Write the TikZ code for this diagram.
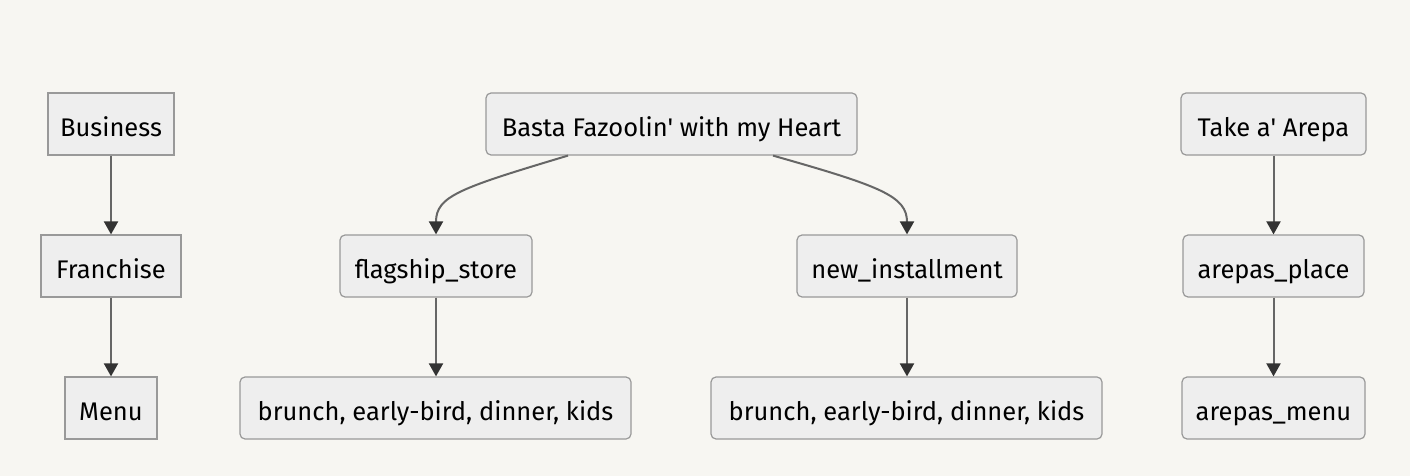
\documentclass[tikz,border=0pt]{standalone}
\usepackage{fontspec}
\newfontfamily\boxfont{Fira Sans}
\usetikzlibrary{arrows.meta}
\definecolor{bg}{HTML}{F7F6F2}
\definecolor{boxfill}{HTML}{EEEEEE}
\definecolor{boxline}{HTML}{999999}
\definecolor{edge}{HTML}{666666}
\definecolor{tip}{HTML}{333333}
\begin{document}
\begin{tikzpicture}[x=1pt,y=-1pt,
  box/.style={draw=boxline,fill=boxfill,line width=1.2pt,inner sep=0pt,
    font=\boxfont\fontsize{25.5}{28}\selectfont,text=black,anchor=center,
    text height=24pt,text depth=0pt},
  rbox/.style={box,rounded corners=5pt},
  link/.style={draw=edge,line width=2pt,
    -{Triangle[length=13pt,width=14pt,color=tip]}}]
\fill[bg] (0,0) rectangle (1410,476);
\useasboundingbox (0,0) rectangle (1410,476);
% left column
\node[box,minimum width=126pt,minimum height=62pt] (bus) at (111,124) {Business};
\node[box,minimum width=140pt,minimum height=62pt] (fra) at (111,266) {Franchise};
\node[box,minimum width=92pt,minimum height=62pt] (men) at (111,408) {Menu};
% middle
\node[rbox,minimum width=371pt,minimum height=62pt] (basta) at (671.5,124) {Basta Fazoolin' with my Heart};
\node[rbox,minimum width=192pt,minimum height=62pt] (flag) at (436,266) {flagship\_store};
\node[rbox,minimum width=220pt,minimum height=62pt] (newi) at (907,266) {new\_installment};
\node[rbox,minimum width=391pt,minimum height=62pt] (br1) at (435.5,408) {brunch, early-bird, dinner, kids};
\node[rbox,minimum width=391pt,minimum height=62pt] (br2) at (906.5,408) {brunch, early-bird, dinner, kids};
% right
\node[rbox,minimum width=185pt,minimum height=62pt] (take) at (1273.5,124) {Take a' Arepa};
\node[rbox,minimum width=181pt,minimum height=62pt] (place) at (1273.5,266) {arepas\_place};
\node[rbox,minimum width=183pt,minimum height=62pt] (amenu) at (1273.5,408) {arepas\_menu};
% edges
\draw[link] (bus) -- (fra);
\draw[link] (fra) -- (men);
\draw[link] (take) -- (place);
\draw[link] (place) -- (amenu);
\draw[link] (flag) -- (flag |- br1.north);
\draw[link] (newi) -- (newi |- br2.north);
\draw[link] ([xshift=-103.5pt]basta.south) .. controls (460,188) and (436,196) .. (flag.north);
\draw[link] ([xshift=101.5pt]basta.south) .. controls (880,186) and (907,196) .. (newi.north);
\end{tikzpicture}
\end{document}
